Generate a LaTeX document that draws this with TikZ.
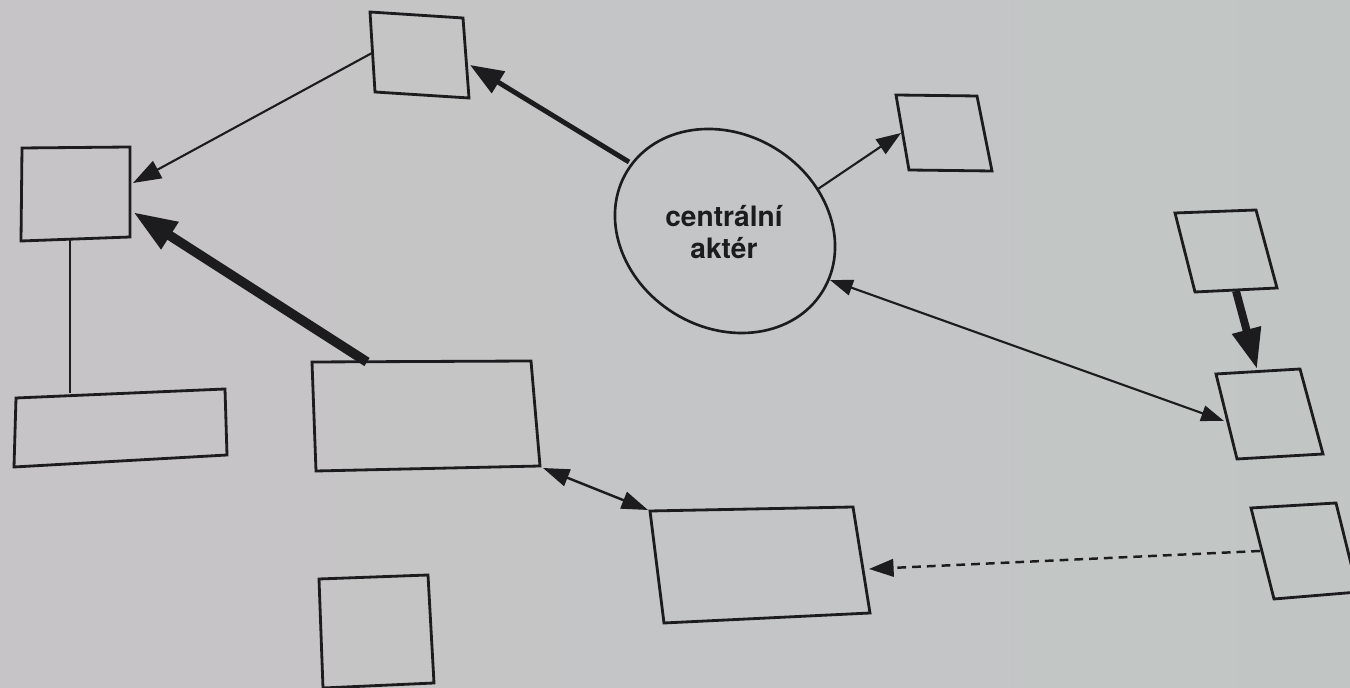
\documentclass[tikz,border=0pt]{standalone}
\usepackage{fontspec}
\setsansfont{TeX Gyre Heros}
\usetikzlibrary{arrows.meta,shapes.geometric,calc}
\definecolor{paperL}{RGB}{199,196,199}
\definecolor{paperR}{RGB}{193,198,197}
\definecolor{ink}{RGB}{28,28,30}
\begin{document}
\begin{tikzpicture}[x=0.02cm,y=-0.02cm,
  box/.style={draw=ink, line width=1.6pt, line join=miter},
  conn/.style={draw=ink, line width=1.2pt},
  lbl/.style={font=\sffamily\bfseries\fontsize{16}{18.7}\selectfont, align=center, text=ink, inner sep=0pt}
 ]
\shade[left color=paperL, right color=paperR] (0,0) rectangle (1350,688);
\useasboundingbox (0,0) rectangle (1350,688);
\clip (0,0) rectangle (1350,688);

% box corners (tl, tr, br, bl)
\coordinate (b1a) at (370,12);  \coordinate (b1b) at (463,18);  \coordinate (b1c) at (469,98);  \coordinate (b1d) at (375,92);
\coordinate (b2a) at (22,148);  \coordinate (b2b) at (130,147); \coordinate (b2c) at (130,237); \coordinate (b2d) at (21,241);
\coordinate (b3a) at (16,398);  \coordinate (b3b) at (225,389); \coordinate (b3c) at (227,455); \coordinate (b3d) at (14,467);
\coordinate (b4a) at (312,362); \coordinate (b4b) at (531,361); \coordinate (b4c) at (540,466); \coordinate (b4d) at (316,471);
\coordinate (b5a) at (319,579); \coordinate (b5b) at (428,575); \coordinate (b5c) at (434,683); \coordinate (b5d) at (323,688);
\coordinate (b6a) at (650,511); \coordinate (b6b) at (853,507); \coordinate (b6c) at (870,613); \coordinate (b6d) at (664,623);
\coordinate (b7a) at (896,95);  \coordinate (b7b) at (977,96);  \coordinate (b7c) at (992,171); \coordinate (b7d) at (909,170);
\coordinate (b8a) at (1175,213); \coordinate (b8b) at (1256,210); \coordinate (b8c) at (1277,288); \coordinate (b8d) at (1195,292);
\coordinate (b9a) at (1216,374); \coordinate (b9b) at (1300,369); \coordinate (b9c) at (1323,454); \coordinate (b9d) at (1237,459);
\coordinate (b10a) at (1251,508); \coordinate (b10b) at (1336,503); \coordinate (b10c) at (1358,592); \coordinate (b10d) at (1274,599);

\foreach \b in {b1,b2,b3,b4,b5,b6,b7,b8,b9,b10}
  \draw[box] (\b a) -- (\b b) -- (\b c) -- (\b d) -- cycle;

% central actor
\node[ellipse, draw=ink, line width=1.5pt, minimum width=4.59cm, minimum height=3.87cm,
      inner sep=0pt, rotate=-31.7] (cen) at (725,231) {};
\node[lbl] (cenlbl) at (724,232) {centrální\\aktér};

% attachment points
\coordinate (c1s) at (372,53);   \coordinate (c1e) at (133,183);
\coordinate (c2s) at (629,162);  \coordinate (c2e) at (470,65);
\coordinate (c3s) at (818,189);  \coordinate (c3e) at (901,133);
\coordinate (c4s) at (367,362);  \coordinate (c4e) at (133,212);
\coordinate (c5s) at (70,240);   \coordinate (c5e) at (70,393);
\coordinate (c6s) at (1236,291); \coordinate (c6e) at (1257,369);
\coordinate (c7s) at (830,280);  \coordinate (c7e) at (1224,421);
\coordinate (c8s) at (543,468);  \coordinate (c8e) at (648,510);
\coordinate (c9s) at (1260,551); \coordinate (c9e) at (869,569);

\draw[conn, -{Triangle[length=16pt,width=11pt]}] (c1s) -- (c1e);
\draw[conn, line width=2.8pt, -{Triangle[length=19pt,width=14pt]}] (c2s) -- (c2e);
\draw[conn, -{Triangle[length=14pt,width=10pt]}] (c3s) -- (c3e);
\draw[conn, line width=5.5pt, -{Triangle[length=25pt,width=17pt]}] (c4s) -- (c4e);
\draw[conn] (c5s) -- (c5e);
\draw[conn, line width=4.5pt, -{Triangle[length=23pt,width=16pt]}] (c6s) -- (c6e);
\draw[conn, {Triangle[length=13pt,width=9pt]}-{Triangle[length=13pt,width=9pt]}] (c7s) -- (c7e);
\draw[conn, line width=1.4pt, {Triangle[length=15pt,width=10pt]}-{Triangle[length=15pt,width=10pt]}] (c8s) -- (c8e);
\draw[conn, line width=1.4pt, dash pattern=on 5pt off 3.4pt, -{Triangle[length=14pt,width=10pt]}] (c9s) -- (c9e);
\end{tikzpicture}
\end{document}
